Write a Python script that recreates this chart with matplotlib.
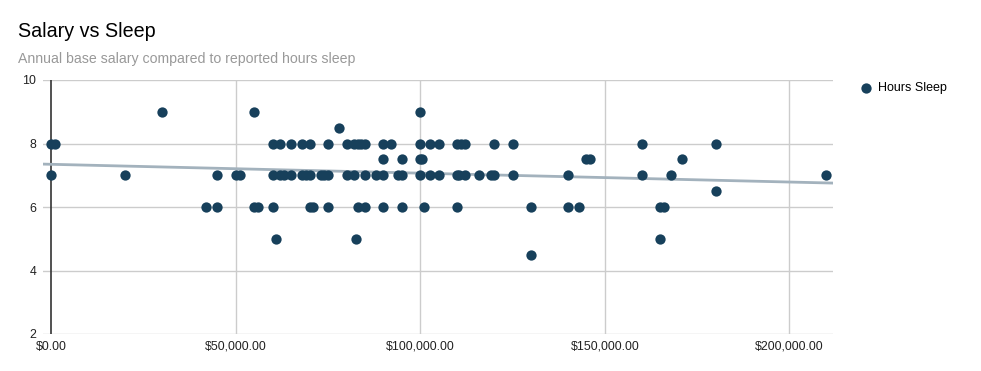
import numpy as np
import matplotlib
matplotlib.use("Agg")
import matplotlib.pyplot as plt
from matplotlib.ticker import FuncFormatter

plt.rcParams['font.family'] = ['Liberation Sans', 'DejaVu Sans']

# Salary (thousands of dollars) and reported hours of sleep, read per row
sal_9 = [30, 55, 100]
sal_85 = [78]
sal_8 = [0, 1, 60, 62, 65, 68, 70, 75, 80, 82, 83, 84, 85, 90, 92, 100,
         102.5, 105, 110, 111, 112, 120, 125, 160, 180]
sal_75 = [90, 95, 100, 100.5, 145, 146, 171]
sal_7 = [0, 20, 45, 50, 51, 60, 62, 63, 65, 68, 69, 70, 73, 74, 75, 80,
         82, 85, 88, 90, 94, 95, 100, 102.5, 105, 110, 110.5, 112, 116,
         119, 120, 125, 140, 160, 168, 210]
sal_65 = [180]
sal_6 = [42, 45, 55, 56, 60, 70, 71, 75, 83, 85, 90, 95, 101, 110, 130,
         140, 143, 165, 166]
sal_5 = [61, 82.5, 165]
sal_45 = [130]

rows = [(9, sal_9), (8.5, sal_85), (8, sal_8), (7.5, sal_75), (7, sal_7),
        (6.5, sal_65), (6, sal_6), (5, sal_5), (4.5, sal_45)]
salary = np.array([s * 1000 for h, ss in rows for s in ss])
sleep = np.array([h for h, ss in rows for s in ss])

y_ticks = [2, 4, 6, 8, 10]
x_ticks = [0, 50000, 100000, 150000, 200000]

point_color = '#17405b'
W, H = 981, 371
fig = plt.figure(figsize=(W / 100, H / 100), dpi=100)
ax = fig.add_axes([43 / W, 37 / H, (833 - 43) / W, (334 - 80) / H])

xmin, xmax = -2250, 211800
ax.set_xlim(xmin, xmax)
ax.set_ylim(2, 10)

# Gridlines
for y in y_ticks:
    ax.axhline(y, color='#cccccc', lw=1, zorder=0)
for x in x_ticks[1:]:
    ax.axvline(x, color='#cccccc', lw=1, zorder=0)
ax.axvline(0, color='#333333', lw=1.2, zorder=1)

# Linear trendline
slope, icpt = np.polyfit(salary, sleep, 1)
tx = np.array([xmin, xmax])
ax.plot(tx, icpt + slope * tx, color='#a3b2bd', lw=2, zorder=2)

ax.scatter(salary, sleep, s=55, color=point_color, zorder=3, clip_on=False,
           linewidths=0, label='Hours Sleep')

for s in ax.spines.values():
    s.set_visible(False)
ax.set_xticks(x_ticks)
ax.set_yticks(y_ticks)
ax.xaxis.set_major_formatter(FuncFormatter(lambda v, p: f"${v:,.2f}"))
ax.tick_params(length=0, labelsize=8.9, colors='#222222')
ax.tick_params(axis='x', pad=5)
ax.tick_params(axis='y', pad=5)

fig.text(18 / W, 1 - 37 / H, 'Salary vs Sleep', fontsize=14.2,
         color='#000000', va='baseline')
fig.text(18 / W, 1 - 63 / H,
         'Annual base salary compared to reported hours sleep',
         fontsize=10.2, color='#999999', va='baseline')

fig.legend(loc='upper left', bbox_to_anchor=(853 / W, 1 - 77 / H),
           frameon=False, fontsize=9, handletextpad=0.4, markerscale=1.0,
           borderaxespad=0, handlelength=1.2)

fig.savefig('out.png', dpi=100)
